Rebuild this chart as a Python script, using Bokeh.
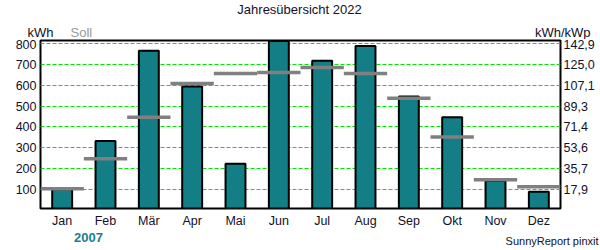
from bokeh.plotting import figure
from bokeh.layouts import column
from bokeh.models import ColumnDataSource, FixedTicker, LinearAxis, Range1d
from bokeh.core.properties import value
from bokeh.embed import file_html
from bokeh.resources import INLINE

months = ["Jan", "Feb", "Mär", "Apr", "Mai", "Jun", "Jul", "Aug", "Sep", "Okt", "Nov", "Dez"]
ertrag = [100, 333, 767, 595, 223, 814, 719, 790, 547, 447, 140, 89]
soll = [103, 247, 447, 609, 657, 662, 686, 657, 538, 352, 146, 113]
left_ticks = [100, 200, 300, 400, 500, 600, 700, 800]
right_labels = ["17,9", "35,7", "53,6", "71,4", "89,3", "107,1", "125,0", "142,9"]

FONT = "Liberation Sans"
TEAL = "#137e86"
TXT = "#10102a"

xs = list(range(1, len(months) + 1))
src = ColumnDataSource(dict(
    x=xs, ertrag=ertrag, soll=soll,
    x0=[x - 0.5 for x in xs], x1=[x + 0.5 for x in xs],
))

def text_strip(height):
    f = figure(width=600, height=height, output_backend="svg", toolbar_location=None,
               x_range=Range1d(0, 600), y_range=Range1d(height, 0), min_border=0,
               x_axis_location=None, y_axis_location=None)
    f.grid.visible = False
    f.outline_line_color = None
    f.background_fill_color = "white"
    f.border_fill_color = "white"
    f.frame_align = False
    return f

def txt(f, x, y, s, align="left", size="13px", color=TXT, style="normal"):
    f.text(x=[x], y=[y], text=[s], text_font=value(FONT), text_font_size=size,
           text_color=color, text_align=align, text_baseline="middle",
           text_font_style=style)

# header
head = text_strip(39)
txt(head, 299, 9, "Jahresübersicht 2022", align="center")
txt(head, 27, 32, "kWh")
txt(head, 70, 32, "Soll", color="#999999")
txt(head, 590, 32, "kWh/kWp", align="right")

# main chart
p = figure(width=600, height=191, output_backend="svg", toolbar_location=None,
           x_range=Range1d(0.5, 12.5), y_range=Range1d(8, 816),
           min_border_left=40, min_border_right=40, min_border_top=1, min_border_bottom=21,
           y_axis_location=None, x_axis_location=None)
p.frame_align = False
p.background_fill_color = "white"
p.border_fill_color = "white"
p.outline_line_color = "black"
p.outline_line_width = 2

p.xgrid.visible = False
p.ygrid.ticker = FixedTicker(ticks=left_ticks)
p.ygrid.grid_line_color = "#00e600"
p.ygrid.grid_line_dash = "4 2"
p.ygrid.grid_line_width = 1.2

p.vbar(x="x", top="ertrag", width=0.46, bottom=0, source=src,
       fill_color=TEAL, line_color="black", line_width=2)
p.segment(x0="x0", x1="x1", y0="soll", y1="soll", source=src,
          line_color="#808080", line_width=3.5)

def style_axis(ax, standoff):
    ax.axis_line_color = None
    ax.major_tick_line_color = None
    ax.minor_tick_line_color = None
    ax.major_tick_in = 0
    ax.major_tick_out = 0
    ax.major_label_text_font = FONT
    ax.major_label_text_font_size = "12.5px"
    ax.major_label_text_color = TXT
    ax.major_label_standoff = standoff

xaxis = LinearAxis(ticker=FixedTicker(ticks=xs),
                   major_label_overrides={x: m for x, m in zip(xs, months)})
style_axis(xaxis, 5)
p.add_layout(xaxis, "below")

laxis = LinearAxis(ticker=FixedTicker(ticks=left_ticks))
style_axis(laxis, 4)
p.add_layout(laxis, "left")

raxis = LinearAxis(ticker=FixedTicker(ticks=left_ticks),
                   major_label_overrides={t: s for t, s in zip(left_ticks, right_labels)})
style_axis(raxis, 3)
p.add_layout(raxis, "right")

# footer
foot = text_strip(20)
txt(foot, 88, 6.5, "2007", align="center", color="#1b7f8b", style="bold")
txt(foot, 598, 10, "SunnyReport pinxit", align="right", size="11px")

layout = column(head, p, foot, spacing=0)
open("out.html", "w").write(file_html(layout, INLINE))
